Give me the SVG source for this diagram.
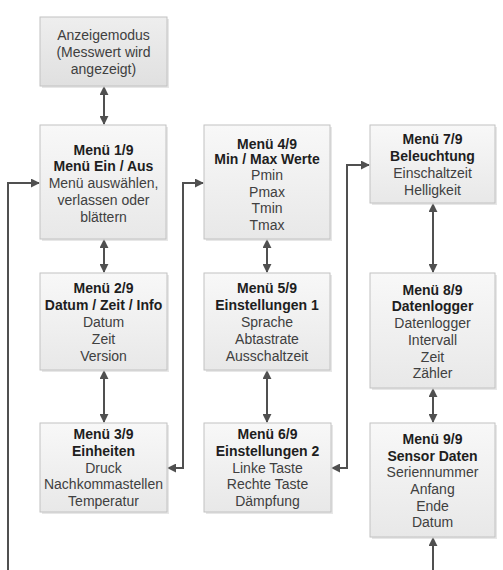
<svg xmlns="http://www.w3.org/2000/svg" width="503" height="570" viewBox="0 0 503 570">
<defs>
<linearGradient id="g" x1="0" y1="0" x2="0" y2="1"><stop offset="0" stop-color="#f8f8f8"/><stop offset="1" stop-color="#e8e8e8"/></linearGradient>
<linearGradient id="g2" x1="0" y1="0" x2="0" y2="1"><stop offset="0" stop-color="#eeeeee"/><stop offset="1" stop-color="#e0e0e0"/></linearGradient>
<marker id="ah" viewBox="0 0 10 10" refX="9" refY="5" markerWidth="9" markerHeight="9" markerUnits="userSpaceOnUse" orient="auto-start-reverse"><path d="M0,0 L10,5 L0,10 z" fill="#505050"/></marker>
</defs>
<style>
.sh{fill:#d4d4d4;opacity:0.55}
.bx{fill:url(#g);stroke:#c2c2c2;stroke-width:1}
.bx0{fill:url(#g2);stroke:#c2c2c2;stroke-width:1}
text{font-family:"Liberation Sans",Arial,sans-serif;font-size:14px;text-anchor:middle}
.t{font-weight:bold;fill:#1e1e1e}
.c{fill:#404040}
.cn{fill:none;stroke:#505050;stroke-width:2;marker-end:url(#ah)}
.b{marker-start:url(#ah)}
</style>
<g id="connectors">
<path class="cn b" d="M104,87 V124"/>
<path class="cn b" d="M104,240 V272"/>
<path class="cn b" d="M104,371 V422"/>
<path class="cn b" d="M267,240 V272"/>
<path class="cn b" d="M267,371 V422"/>
<path class="cn b" d="M433,204 V272"/>
<path class="cn b" d="M433,389 V422"/>
<path class="cn b" d="M168,468 H183 V183 H203"/>
<path class="cn b" d="M332,468 H347 V165 H369"/>
<path class="cn" d="M8,570 V183 H39"/>
<path class="cn" d="M433,570 V538"/>
</g>
<g id="anzeige">
<rect class="sh" x="42" y="19" width="127" height="69"/>
<rect class="bx0" x="40" y="17" width="127" height="69"/>
<text x="103.5" y="39.5" class="c">Anzeigemodus</text>
<text x="103.5" y="56.5" class="c">(Messwert wird</text>
<text x="103.5" y="73.5" class="c">angezeigt)</text>
</g>
<g id="menu1">
<rect class="sh" x="42" y="127" width="126" height="114"/>
<rect class="bx" x="40" y="125" width="126" height="114"/>
<text x="103.5" y="154.5" class="t">Menü 1/9</text>
<text x="103.5" y="171" class="t">Menü Ein / Aus</text>
<text x="103.5" y="188" class="c">Menü auswählen,</text>
<text x="103.5" y="205" class="c">verlassen oder</text>
<text x="103.5" y="221.5" class="c">blättern</text>
</g>
<g id="menu2">
<rect class="sh" x="42" y="275" width="127" height="97"/>
<rect class="bx" x="40" y="273" width="127" height="97"/>
<text x="103.5" y="292.5" class="t">Menü 2/9</text>
<text x="103.5" y="309.5" class="t">Datum / Zeit / Info</text>
<text x="103.5" y="326.5" class="c">Datum</text>
<text x="103.5" y="343.5" class="c">Zeit</text>
<text x="103.5" y="360.5" class="c">Version</text>
</g>
<g id="menu3">
<rect class="sh" x="42" y="425" width="127" height="89"/>
<rect class="bx" x="40" y="423" width="127" height="89"/>
<text x="103.5" y="438.5" class="t">Menü 3/9</text>
<text x="103.5" y="455.5" class="t">Einheiten</text>
<text x="103.5" y="472.5" class="c">Druck</text>
<text x="103.5" y="489" class="c">Nachkommastellen</text>
<text x="103.5" y="505.5" class="c">Temperatur</text>
</g>
<g id="menu4">
<rect class="sh" x="206" y="127" width="126" height="114"/>
<rect class="bx" x="204" y="125" width="126" height="114"/>
<text x="267" y="148.5" class="t">Menü 4/9</text>
<text x="267" y="164" class="t">Min / Max Werte</text>
<text x="267" y="180" class="c">Pmin</text>
<text x="267" y="196.5" class="c">Pmax</text>
<text x="267" y="213" class="c">Tmin</text>
<text x="267" y="229.5" class="c">Tmax</text>
</g>
<g id="menu5">
<rect class="sh" x="206" y="275" width="126" height="97"/>
<rect class="bx" x="204" y="273" width="126" height="97"/>
<text x="267" y="292.5" class="t">Menü 5/9</text>
<text x="267" y="309.5" class="t">Einstellungen 1</text>
<text x="267" y="326.5" class="c">Sprache</text>
<text x="267" y="343.5" class="c">Abtastrate</text>
<text x="267" y="360.5" class="c">Ausschaltzeit</text>
</g>
<g id="menu6">
<rect class="sh" x="206" y="425" width="127" height="89"/>
<rect class="bx" x="204" y="423" width="127" height="89"/>
<text x="267.5" y="438.5" class="t">Menü 6/9</text>
<text x="267.5" y="455.5" class="t">Einstellungen 2</text>
<text x="267.5" y="472.5" class="c">Linke Taste</text>
<text x="267.5" y="489" class="c">Rechte Taste</text>
<text x="267.5" y="505.5" class="c">Dämpfung</text>
</g>
<g id="menu7">
<rect class="sh" x="372" y="127" width="125" height="78"/>
<rect class="bx" x="370" y="125" width="125" height="78"/>
<text x="432.5" y="144" class="t">Menü 7/9</text>
<text x="432.5" y="161" class="t">Beleuchtung</text>
<text x="432.5" y="178" class="c">Einschaltzeit</text>
<text x="432.5" y="195" class="c">Helligkeit</text>
</g>
<g id="menu8">
<rect class="sh" x="372" y="275" width="125" height="115"/>
<rect class="bx" x="370" y="273" width="125" height="115"/>
<text x="432.5" y="294.5" class="t">Menü 8/9</text>
<text x="432.5" y="311" class="t">Datenlogger</text>
<text x="432.5" y="328" class="c">Datenlogger</text>
<text x="432.5" y="344.5" class="c">Intervall</text>
<text x="432.5" y="361.5" class="c">Zeit</text>
<text x="432.5" y="378" class="c">Zähler</text>
</g>
<g id="menu9">
<rect class="sh" x="372" y="425" width="125" height="114"/>
<rect class="bx" x="370" y="423" width="125" height="114"/>
<text x="432.5" y="443.5" class="t">Menü 9/9</text>
<text x="432.5" y="460.5" class="t">Sensor Daten</text>
<text x="432.5" y="477" class="c">Seriennummer</text>
<text x="432.5" y="494" class="c">Anfang</text>
<text x="432.5" y="510.5" class="c">Ende</text>
<text x="432.5" y="527" class="c">Datum</text>
</g>
</svg>
